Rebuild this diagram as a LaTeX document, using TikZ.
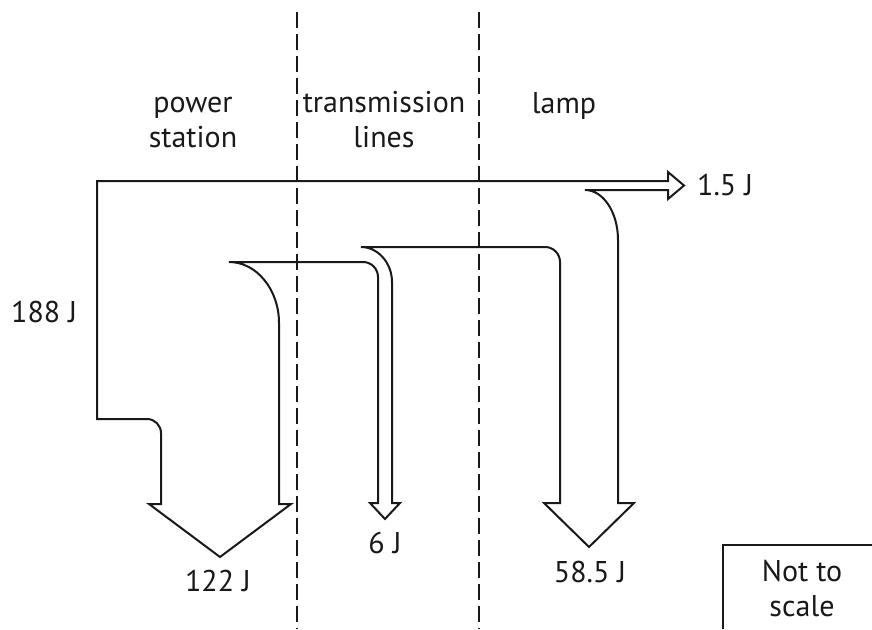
\documentclass[tikz,border=0pt]{standalone}
\usepackage{fontspec}
\setmainfont{PT Sans}
\begin{document}
\begin{tikzpicture}[x=1pt,y=-1pt,
  flow/.style={line width=2pt, line join=miter, draw=black!90},
  divider/.style={line width=2pt, draw=black!90, dash pattern=on 16pt off 6pt},
  lbl/.style={font=\fontsize{30}{35}\selectfont, anchor=base, inner sep=0pt, text=black!90},
  mlbl/.style={lbl, align=center}
]
\useasboundingbox (0,0) rectangle (872,629);
% dividers
\coordinate (d1t) at (297,12); \coordinate (d1b) at (297,629);
\coordinate (d2t) at (479,12); \coordinate (d2b) at (479,629);
\draw[divider] (d1t) -- (d1b);
\draw[divider] (d2t) -- (d2b);
% flow outline
\draw[flow] (97,181) -- (668,181) -- (668,172) -- (684,185.5) -- (668,199) -- (668,190)
  -- (585,190) .. controls (603,190) and (618,212) .. (618,240)
  -- (618,503) -- (634,503) -- (589,547) -- (544,503) -- (560,503)
  -- (560,262) .. controls (560,253.7) and (553.3,247) .. (545,247)
  -- (361,247) .. controls (378,247) and (392,263) .. (392,282)
  -- (392,503) -- (400,503) -- (385,519) -- (370,503) -- (378,503)
  -- (378,277) .. controls (378,268.7) and (371.3,262) .. (363,262)
  -- (229,262) .. controls (256.5,262) and (279,289.5) .. (279,323)
  -- (279,504) -- (291,504) -- (220,557) -- (149,504) -- (161,504)
  -- (161,433) .. controls (161,425.3) and (154.7,419) .. (147,419)
  -- (97,419) -- cycle;
% labels
\node[mlbl] (ps) at (193,147) {power\\station};
\node[mlbl] (tl) at (384,147) {transmission\\lines};
\node[lbl] (lamp) at (564,113) {lamp};
\node[lbl, anchor=base west] (e15) at (697,195) {1.5 J};
\node[lbl, anchor=base west] (e188) at (11,322) {188 J};
\node[lbl] (e122) at (218,591) {122 J};
\node[lbl] (e6) at (385,553) {6 J};
\node[lbl] (e585) at (590,582) {58.5 J};
% not to scale box
\coordinate (nb1) at (723,629); \coordinate (nb2) at (723,545); \coordinate (nb3) at (872,545);
\draw[line width=1.2pt, draw=black!90] (nb1) -- (nb2) -- (nb3);
\node[mlbl] (nts) at (802,616) {Not to\\scale};
\end{tikzpicture}
\end{document}
